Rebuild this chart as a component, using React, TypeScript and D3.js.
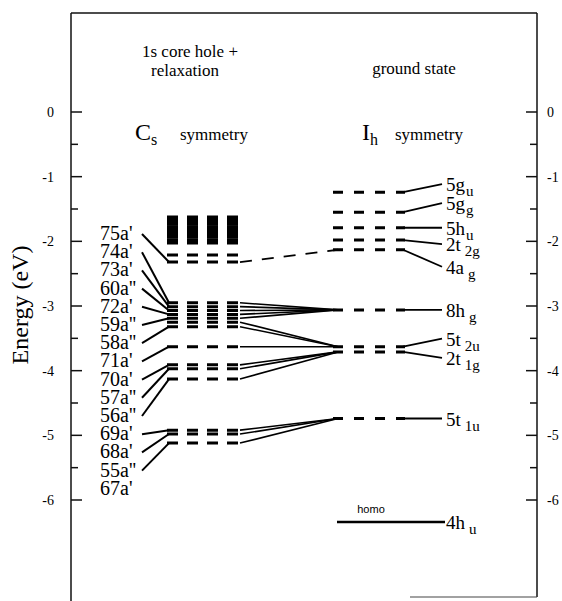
import React from 'react';
import * as d3 from 'd3';

// axis ticks (eV)
const majorTicks = [0, -1, -2, -3, -4, -5, -6];
const minorTicks = [-0.5, -1.5, -2.5, -3.5, -4.5, -5.5];

// Ih ground state levels
const ihNames = ['5g', '5g', '5h', '2t', '4a', '8h', '5t', '2t', '5t', '4h'];
const ihSubs = ['u', 'g', 'u', '2g', 'g', 'g', '2u', '1g', '1u', 'u'];
const ihEnergies = [-1.24, -1.55, -1.79, -1.98, -2.13, -3.06, -3.63, -3.71, -4.74, -6.34];

// Cs core hole levels: the dense upper block, and the single levels
const csBlock = [-1.63, -1.68, -1.73, -1.78, -1.83, -1.88, -1.93, -1.98, -2.02];
const csLevels = [-2.21, -2.32, -2.95, -3.01, -3.07, -3.13, -3.19, -3.25, -3.32, -3.63, -3.91, -3.97, -4.13, -4.92, -4.98, -5.12];

const csLabels = ["75a'", "74a'", "73a'", "60a''", "72a'", "59a''", "58a''", "71a'", "70a'", "57a''", "56a''", "69a'", "68a'", "55a''", "67a'"];
// which Cs level each label points at (-1 = none)
const csLabelTarget = [1, 2, 3, 4, 5, 6, 8, 9, 10, 11, 12, 13, 14, 15, -1];
// which Ih level each Cs level correlates with (-1 = none)
const csToIh = [-1, 4, 5, 5, 5, 5, 5, 6, 6, 6, 7, 7, 7, 8, 8, 8];

// layout
const ihLabelDy = [-8, -9, 0, 4, 17, 0, -8, 6, 0, 0];
const csX0 = 167, csX1 = 240;
const ihX0 = 333, ihX1 = 405;
const serif = '"Liberation Serif", "DejaVu Serif", serif';

const App = () => {
  const width = 562, height = 601;
  const y = d3.scaleLinear().domain([0, -6]).range([112, 500]);
  const left = 71, right = 537, top = 13;
  const labelY0 = 240, labelStep = 18.2;

  return (
    <svg width={width} height={height} style={{ position: 'absolute', left: 0, top: 0 }}
      fontFamily={serif}>
      <rect width={width} height={height} fill="#fff" />
      {/* frame */}
      <line x1={left} x2={right} y1={top} y2={top} stroke="#111" strokeWidth={1.5} />
      <line x1={left} x2={left} y1={top} y2={height} stroke="#111" strokeWidth={1.5} />
      <line x1={right} x2={right} y1={top} y2={597} stroke="#111" strokeWidth={1.5} />
      <line x1={410} x2={right} y1={597} y2={597} stroke="#444" strokeWidth={1.2} />

      {majorTicks.map((t, i) => (
        <g key={'M' + i}>
          <line x1={left} x2={left + 11} y1={y(t)} y2={y(t)} stroke="#111" strokeWidth={1.5} />
          <line x1={right} x2={right - 11} y1={y(t)} y2={y(t)} stroke="#111" strokeWidth={1.5} />
          <text x={54} y={y(t) + 5} fontSize={14} textAnchor="end">{t === 0 ? '0' : '-' + Math.abs(t)}</text>
          <text x={547} y={y(t) + 5} fontSize={14}>{t === 0 ? '0' : '-' + Math.abs(t)}</text>
        </g>
      ))}
      {minorTicks.map((t, i) => (
        <g key={'m' + i}>
          <line x1={left} x2={left + 7} y1={y(t)} y2={y(t)} stroke="#111" strokeWidth={1.5} />
          <line x1={right} x2={right - 7} y1={y(t)} y2={y(t)} stroke="#111" strokeWidth={1.5} />
        </g>
      ))}
      <text transform={`translate(28, ${305}) rotate(-90)`} fontSize={24} textAnchor="middle">Energy (eV)</text>

      {/* headings */}
      <text x={190} y={57} fontSize={17} textAnchor="middle">1s core hole  +</text>
      <text x={185} y={76} fontSize={17} textAnchor="middle">relaxation</text>
      <text x={414} y={74} fontSize={17} textAnchor="middle">ground state</text>
      <text x={135} y={140} fontSize={24}>C<tspan fontSize={16} dy={5}>s</tspan></text>
      <text x={180} y={140} fontSize={17}>symmetry</text>
      <text x={362} y={140} fontSize={24}>I<tspan fontSize={16} dy={5}>h</tspan></text>
      <text x={395} y={140} fontSize={17}>symmetry</text>

      {/* Cs levels */}
      {csBlock.map((e, i) => (
        <line key={'b' + i} x1={csX0} x2={csX1} y1={y(e)} y2={y(e)} stroke="#000" strokeWidth={3.6} strokeDasharray="11,9" />
      ))}
      {csLevels.map((e, i) => (
        <line key={'c' + i} x1={csX0} x2={csX1} y1={y(e)} y2={y(e)} stroke="#000" strokeWidth={3} strokeDasharray="11,9" />
      ))}

      {/* Cs labels and their leader lines */}
      {csLabels.map((l, i) => {
        const by = labelY0 + i * labelStep;
        const t = csLabelTarget[i];
        return (
          <g key={'l' + i}>
            <text x={100} y={by} fontSize={20}>{l}</text>
            {t >= 0 && (
              <line x1={142} y1={by - 6} x2={csX0 + 2} y2={y(csLevels[t])} stroke="#000" strokeWidth={2} />
            )}
          </g>
        );
      })}

      {/* correlation lines Cs -> Ih */}
      {csLevels.map((e, i) => {
        const k = csToIh[i];
        if (k < 0) return null;
        return (
          <line key={'r' + i} x1={csX1} y1={y(e)} x2={ihX0 + 5} y2={y(ihEnergies[k])}
            stroke="#000" strokeWidth={k === 4 ? 1.8 : 1.6}
            strokeDasharray={k === 4 ? '12,10' : undefined} />
        );
      })}

      {/* Ih levels */}
      {ihEnergies.map((e, i) => {
        const ly = y(e) + ihLabelDy[i];
        const homo = i === ihEnergies.length - 1;
        const wide = ihSubs[i].length > 1 || ['4a', '8h', '4h'].includes(ihNames[i]);
        return (
          <g key={'i' + i}>
            {homo ? (
              <line x1={337} x2={445} y1={y(e)} y2={y(e)} stroke="#000" strokeWidth={2.5} />
            ) : (
              <>
                <line x1={ihX0} x2={ihX1} y1={y(e)} y2={y(e)} stroke="#000" strokeWidth={3} strokeDasharray="10,11" />
                <line x1={ihX1 - 2} y1={y(e)} x2={442} y2={ly} stroke="#000" strokeWidth={1.8} />
              </>
            )}
            <text x={446} y={ly + 7} fontSize={19}>
              {ihNames[i]}
              <tspan fontSize={15} dx={wide ? 4 : 1} dy={5}>{ihSubs[i]}</tspan>
            </text>
          </g>
        );
      })}
      <text x={371} y={513} fontSize={11} fontFamily='"Liberation Sans", Arial, sans-serif' textAnchor="middle">homo</text>
    </svg>
  );
};

export default App;
